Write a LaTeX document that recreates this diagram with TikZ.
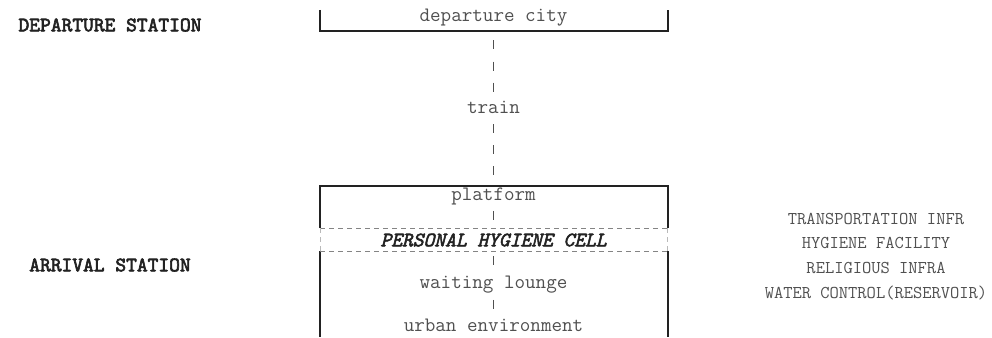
\documentclass[tikz,border=0pt]{standalone}
\usepackage{fontspec}
\newfontfamily\stationtt{lmmono10-regular.otf}[FakeBold=3]
\newfontfamily\celltt{lmmono10-italic.otf}[FakeBold=2.5]
\usetikzlibrary{positioning}
\definecolor{inkgrey}{HTML}{505050}
\definecolor{wallgrey}{HTML}{222222}
\tikzset{%
	place/.style    = {font=\ttfamily\fontsize{20.5}{22}\selectfont, text=inkgrey, inner sep=2pt}, % station parts
	station/.style  = {font=\stationtt\fontsize{20.5}{22}\selectfont, text=wallgrey, inner sep=2pt},
	infra/.style    = {font=\ttfamily\fontsize{18}{20}\selectfont, text=inkgrey, inner sep=2pt, text height=12pt, text depth=4pt},
	wall/.style     = {line width=2pt, draw=wallgrey},
	cellline/.style = {line width=0.8pt, draw=inkgrey!70, dash pattern=on 5pt off 4pt},
	link/.style     = {line width=1pt, draw=inkgrey, dash pattern=on 9pt off 12pt, dash phase=12pt},
}
\begin{document}
\begin{tikzpicture}[x=1pt,y=-1pt]
		\useasboundingbox (0,0) rectangle (992,337);
		% station labels
		\node [station] (dep) at (110,25) {DEPARTURE STATION};
		\node [station] (arr) at (110,265) {ARRIVAL STATION};
		% chain of places
		\node [place] (city) at (493.5,18) {departure city};
		\node [place] (train) at (493.5,107) {train};
		\node [place] (plat) at (493.5,196) {platform};
		\node [place, font=\celltt\fontsize{20.5}{22}\selectfont, text=wallgrey] (cell) at (493.5,240) {PERSONAL HYGIENE CELL};
		\node [place] (lounge) at (493.5,285) {waiting lounge};
		\node [place] (urban) at (493.5,325) {urban environment};
		% infrastructure list
		\node [infra] (tr) at (876,220) {TRANSPORTATION INFR};
		\node [infra] (hy) [below=4.5pt of tr] {HYGIENE FACILITY};
		\node [infra] (re) [below=4.5pt of hy] {RELIGIOUS INFRA};
		\node [infra] (wa) [below=4.5pt of re] {WATER CONTROL(RESERVOIR)};
		% walls
		\coordinate (cityfoot) at (493.5,31.5);
		\coordinate (plattop) at (493.5,185.5);
		\coordinate (celltop) at (493.5,228);
		\coordinate (cellbot) at (493.5,251);
		\draw[wall] (320,10) -- (320,31.5) -- (667.5,31.5) -- (667.5,10);
		\draw[wall] (320,228) -- (320,185.5) -- (667.5,185.5) -- (667.5,228);
		\draw[wall] (320,251) -- (320,337);
		\draw[wall] (667.5,251) -- (667.5,337);
		\draw[cellline] (320,228) -- (667.5,228);
		\draw[cellline] (320,251) -- (667.5,251);
		\draw[cellline, draw=inkgrey!40] (320,228) -- (320,251);
		\draw[cellline, draw=inkgrey!40] (667.5,228) -- (667.5,251);
		% links
		\draw[link] (cityfoot) -- (train);
		\draw[link] (train) -- (plattop);
		\draw[link, dash phase=17pt] (plat) -- (celltop);
		\draw[link, dash phase=16pt] (cellbot) -- (lounge);
		\draw[link, dash phase=17pt] (lounge) -- (urban);
\end{tikzpicture}
\end{document}
